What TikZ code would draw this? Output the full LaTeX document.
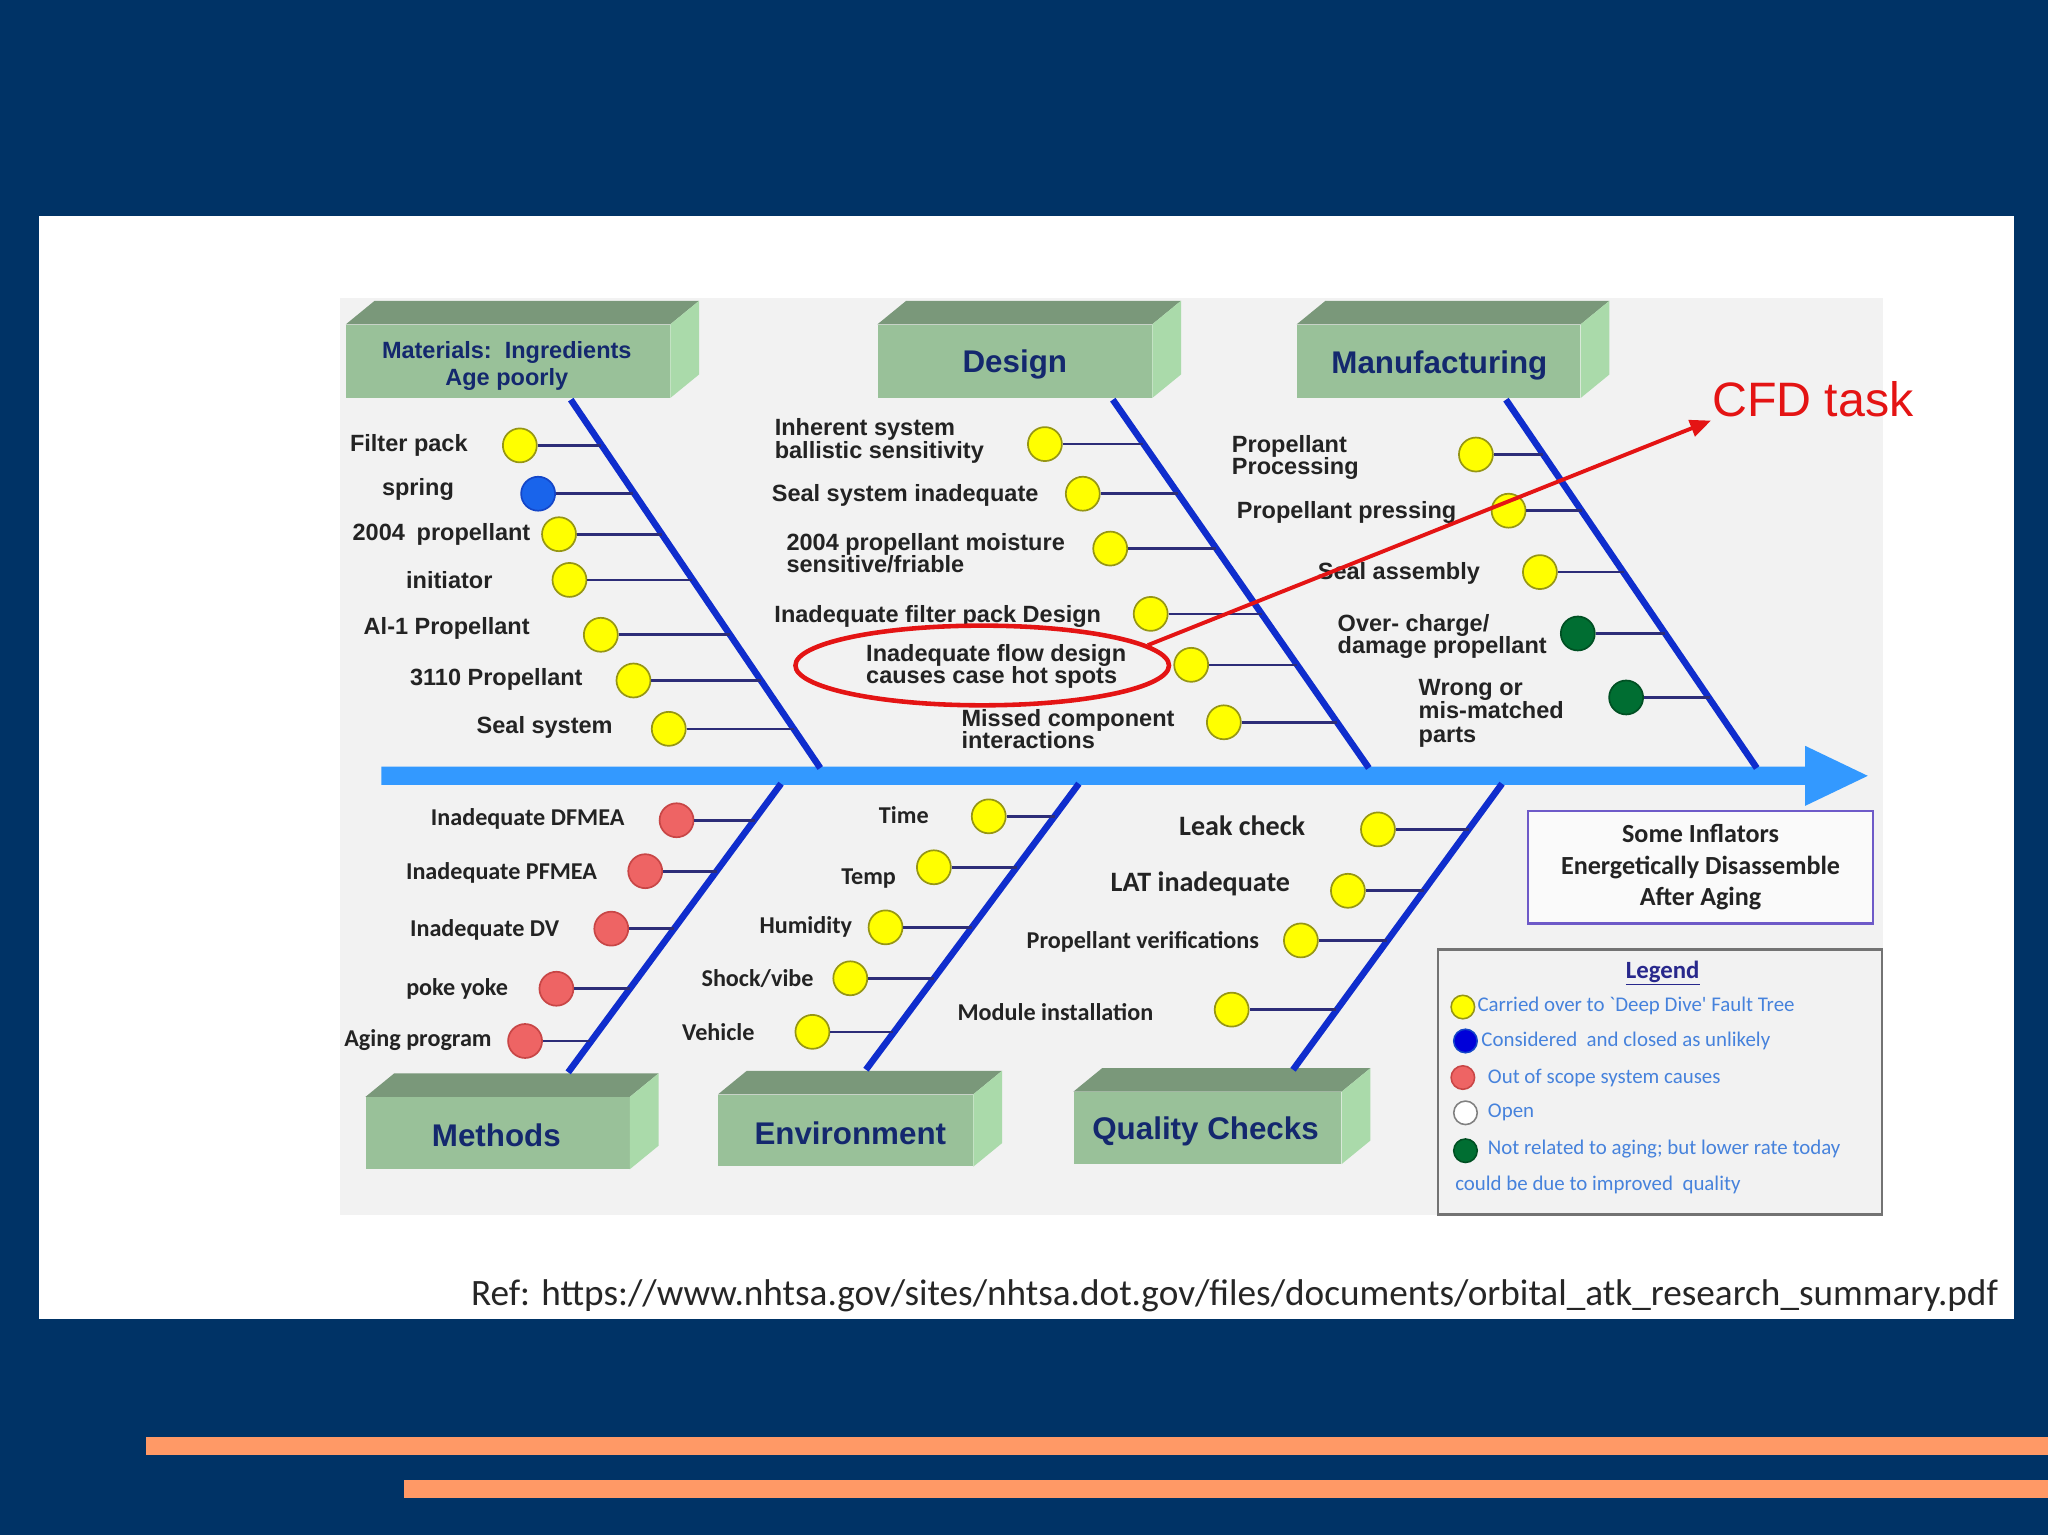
\documentclass[tikz,border=0pt]{standalone}
\usepackage{fontspec}
\setmainfont{Liberation Sans}
\newfontfamily\calfont{Carlito}
\usetikzlibrary{shapes.geometric,arrows.meta}
\definecolor{navybg}{RGB}{0,51,102}
\definecolor{orangebar}{RGB}{255,153,102}
\definecolor{diagbg}{RGB}{242,242,242}
\definecolor{spinecol}{RGB}{51,153,255}
\definecolor{bonecol}{RGB}{15,45,205}
\definecolor{twigcol}{RGB}{45,45,120}
\definecolor{yfill}{RGB}{255,255,0}
\definecolor{yedge}{RGB}{150,150,20}
\definecolor{bfill}{RGB}{25,100,235}
\definecolor{bedge}{RGB}{20,70,200}
\definecolor{rfill}{RGB}{238,100,100}
\definecolor{redge}{RGB}{200,70,70}
\definecolor{gfill}{RGB}{0,110,50}
\definecolor{gedge}{RGB}{0,80,35}
\definecolor{frontgreen}{RGB}{153,193,153}
\definecolor{topgreen}{RGB}{122,152,122}
\definecolor{sidegreen}{RGB}{170,218,170}
\definecolor{hdrtext}{RGB}{20,40,110}
\definecolor{labeltext}{RGB}{35,35,35}
\definecolor{legtext}{RGB}{70,130,220}
\definecolor{legtitle}{RGB}{40,40,140}
\definecolor{redmark}{RGB}{228,20,20}
\definecolor{effborder}{RGB}{110,90,200}
\newcommand\boxfaces[1]{%
  \fill[topgreen] (#1.north west) -- ++(22,-18) -- ([shift={(22,-18)}]#1.north east) -- (#1.north east) -- cycle;
  \fill[sidegreen] (#1.north east) -- ++(22,-18) -- ([shift={(22,-18)}]#1.south east) -- (#1.south east) -- cycle;}
\begin{document}
\begin{tikzpicture}[x=1pt,y=-1pt,
  front/.style={fill=frontgreen, inner sep=0pt, minimum height=56pt},
  hdr/.style={inner sep=0pt, text=hdrtext, align=center, font=\fontsize{24}{26}\selectfont\bfseries},
  bone/.style={draw=bonecol, line width=5pt},
  twig/.style={draw=twigcol, line width=2pt},
  dot/.style={circle, line width=1.3pt, minimum size=26pt, inner sep=0pt},
  cy/.style={dot, draw=yedge, fill=yfill},
  cb/.style={dot, draw=bedge, fill=bfill},
  cr/.style={dot, draw=redge, fill=rfill},
  cg/.style={dot, draw=gedge, fill=gfill},
  lbl/.style={inner sep=0pt, text=labeltext, align=left, font=\fontsize{18}{17}\selectfont\bfseries},
  lblc/.style={inner sep=0pt, text=labeltext, align=left, font=\calfont\bfseries\fontsize{18.5}{18}\selectfont},
  lblq/.style={inner sep=0pt, text=labeltext, align=left, font=\calfont\bfseries\fontsize{21.5}{22}\selectfont},
  legdot/.style={circle, line width=1.2pt, minimum size=18pt, inner sep=0pt},
  legtxt/.style={inner sep=0pt, anchor=west, text=legtext, font=\calfont\fontsize{16}{18}\selectfont}
]
\useasboundingbox (0,0) rectangle (1568,1175);
% backgrounds
\fill[navybg] (0,0) rectangle (1568,1175);
\fill[white] (30,165) rectangle (1542,1010);
\fill[diagbg] (260,228) rectangle (1442,930);
\fill[orangebar] (112,1100) rectangle (1568,1114);
\fill[orangebar] (309,1133) rectangle (1568,1147);

% header boxes
\node[front, minimum width=248pt] (mat) at (389,276.5) {};
\boxfaces{mat}
\node[hdr, font=\fontsize{18}{21}\selectfont\bfseries] (matL) at (388,280) {Materials:\ \ Ingredients\\Age poorly};
\node[front, minimum width=210pt] (des) at (777,276.5) {};
\boxfaces{des}
\node[hdr] (desL) at (777,279) {Design};
\node[front, minimum width=217pt] (man) at (1101.5,276.5) {};
\boxfaces{man}
\node[hdr] (manL) at (1102,280) {Manufacturing};
\node[front, minimum width=202pt, minimum height=55pt] (met) at (381,867.5) {};
\boxfaces{met}
\node[hdr] (metL) at (380,869) {Methods};
\node[front, minimum width=195pt, minimum height=55pt] (env) at (647.5,865.5) {};
\boxfaces{env}
\node[hdr] (envL) at (651,868) {Environment};
\node[front, minimum width=205pt, minimum height=55pt] (qua) at (924.5,863.5) {};
\boxfaces{qua}
\node[hdr] (quaL) at (923,866) {Quality Checks};

% spine
\coordinate (spL) at (292,594);
\coordinate (spR) at (1430,594);
\fill[spinecol] (292,587) -- (1382,587) -- (1382,571) -- (spR) -- (1382,617) -- (1382,601) -- (292,601) -- cycle;

% bones
\coordinate (matT) at (437,306); \coordinate (matB) at (628,588);
\coordinate (desT) at (852,306); \coordinate (desB) at (1048,588);
\coordinate (manT) at (1153,306); \coordinate (manB) at (1345,588);
\coordinate (metB) at (435,821); \coordinate (metT) at (598,600);
\coordinate (envB) at (663,819); \coordinate (envT) at (826,600);
\coordinate (quaB) at (990,819); \coordinate (quaT) at (1150,600);
\draw[bone] (matT) -- (matB);
\draw[bone] (desT) -- (desB);
\draw[bone] (manT) -- (manB);
\draw[bone] (metB) -- (metT);
\draw[bone] (envB) -- (envT);
\draw[bone] (quaB) -- (quaT);

% Materials causes
\node[cy] (m1) at (398,341) {}; \coordinate (m1e) at (460,341); \draw[twig] (m1) -- (m1e);
\node[lbl] (m1t) at (313,341) {Filter pack};
\node[cb] (m2) at (412,378) {}; \coordinate (m2e) at (485,378); \draw[twig] (m2) -- (m2e);
\node[lbl] (m2t) at (320,375) {spring};
\node[cy] (m3) at (428,409) {}; \coordinate (m3e) at (507,409); \draw[twig] (m3) -- (m3e);
\node[lbl] (m3t) at (338,409) {2004\enspace propellant};
\node[cy] (m4) at (436,444) {}; \coordinate (m4e) at (530,444); \draw[twig] (m4) -- (m4e);
\node[lbl] (m4t) at (344,444) {initiator};
\node[cy] (m5) at (460,486) {}; \coordinate (m5e) at (559,486); \draw[twig] (m5) -- (m5e);
\node[lbl] (m5t) at (342,481) {Al-1 Propellant};
\node[cy] (m6) at (485,521) {}; \coordinate (m6e) at (583,521); \draw[twig] (m6) -- (m6e);
\node[lbl] (m6t) at (380,520) {3110 Propellant};
\node[cy] (m7) at (512,558) {}; \coordinate (m7e) at (608,558); \draw[twig] (m7) -- (m7e);
\node[lbl] (m7t) at (417,557) {Seal system};

% Design causes
\node[cy] (d1) at (800,340) {}; \coordinate (d1e) at (875,340); \draw[twig] (d1) -- (d1e);
\node[lbl, anchor=west] (d1t) at (593,337.5) {Inherent system\\ballistic sensitivity};
\node[cy] (d2) at (829,378) {}; \coordinate (d2e) at (902,378); \draw[twig] (d2) -- (d2e);
\node[lbl] (d2t) at (693,379) {Seal system inadequate};
\node[cy] (d3) at (850,420) {}; \coordinate (d3e) at (931,420); \draw[twig] (d3) -- (d3e);
\node[lbl, anchor=west] (d3t) at (602,423.5) {2004 propellant moisture\\sensitive/friable};
\node[cy] (d4) at (881,470) {}; \coordinate (d4e) at (966,470); \draw[twig] (d4) -- (d4e);
\node[lbl] (d4t) at (718,472) {Inadequate filter pack Design};
\node[cy] (d5) at (912,509) {}; \coordinate (d5e) at (993,509); \draw[twig] (d5) -- (d5e);
\node[lbl, anchor=west] (d5t) at (663,510.5) {Inadequate flow design\\causes case hot spots};
\node[cy] (d6) at (937,553) {}; \coordinate (d6e) at (1024,553); \draw[twig] (d6) -- (d6e);
\node[lbl, anchor=west] (d6t) at (736,558) {Missed component\\interactions};

% Manufacturing causes
\node[cy] (f1) at (1130,348) {}; \coordinate (f1e) at (1181,348); \draw[twig] (f1) -- (f1e);
\node[lbl, anchor=west] (f1t) at (943,350.5) {Propellant\\Processing};
\node[cy] (f2) at (1155,391) {}; \coordinate (f2e) at (1211,391); \draw[twig] (f2) -- (f2e);
\node[lbl] (f2t) at (1031,392) {Propellant pressing};
\node[cy] (f3) at (1179,438) {}; \coordinate (f3e) at (1243,438); \draw[twig] (f3) -- (f3e);
\node[lbl] (f3t) at (1071,439) {Seal assembly};
\node[cg] (f4) at (1208,485) {}; \coordinate (f4e) at (1275,485); \draw[twig] (f4) -- (f4e);
\node[lbl, anchor=west] (f4t) at (1024,487.5) {Over- charge/\\damage propellant};
\node[cg] (f5) at (1245,534) {}; \coordinate (f5e) at (1309,534); \draw[twig] (f5) -- (f5e);
\node[lbl, anchor=west, font=\fontsize{18}{18}\selectfont\bfseries] (f5t) at (1086,546) {Wrong or\\mis-matched\\parts};

% Methods causes
\node[cr] (t1) at (518,628) {}; \coordinate (t1e) at (578,628); \draw[twig] (t1) -- (t1e);
\node[lblc] (t1t) at (404,627) {Inadequate DFMEA};
\node[cr] (t2) at (494,667) {}; \coordinate (t2e) at (549,667); \draw[twig] (t2) -- (t2e);
\node[lblc] (t2t) at (384,668) {Inadequate PFMEA};
\node[cr] (t3) at (468,711) {}; \coordinate (t3e) at (516,711); \draw[twig] (t3) -- (t3e);
\node[lblc] (t3t) at (371,712) {Inadequate DV};
\node[cr] (t4) at (426,757) {}; \coordinate (t4e) at (482,757); \draw[twig] (t4) -- (t4e);
\node[lblc] (t4t) at (350,757) {poke yoke};
\node[cr] (t5) at (402,797) {}; \coordinate (t5e) at (452,797); \draw[twig] (t5) -- (t5e);
\node[lblc] (t5t) at (320,796) {Aging program};

% Environment causes
\node[cy] (e1) at (757,625) {}; \coordinate (e1e) at (808,625); \draw[twig] (e1) -- (e1e);
\node[lblc] (e1t) at (692,624) {Time};
\node[cy] (e2) at (715,664) {}; \coordinate (e2e) at (779,664); \draw[twig] (e2) -- (e2e);
\node[lblc] (e2t) at (665,673) {Temp};
\node[cy] (e3) at (678,710) {}; \coordinate (e3e) at (744,710); \draw[twig] (e3) -- (e3e);
\node[lblc] (e3t) at (617,710) {Humidity};
\node[cy] (e4) at (651,749) {}; \coordinate (e4e) at (715,749); \draw[twig] (e4) -- (e4e);
\node[lblc] (e4t) at (580,749) {Shock/vibe};
\node[cy] (e5) at (622,790) {}; \coordinate (e5e) at (684,790); \draw[twig] (e5) -- (e5e);
\node[lblc] (e5t) at (550,790) {Vehicle};

% Quality causes
\node[cy] (q1) at (1055,635) {}; \coordinate (q1e) at (1125,635); \draw[twig] (q1) -- (q1e);
\node[lblq] (q1t) at (951,632) {Leak check};
\node[cy] (q2) at (1032,682) {}; \coordinate (q2e) at (1090,682); \draw[twig] (q2) -- (q2e);
\node[lblq] (q2t) at (919,677) {LAT inadequate};
\node[cy] (q3) at (996,720) {}; \coordinate (q3e) at (1062,720); \draw[twig] (q3) -- (q3e);
\node[lblc] (q3t) at (875,721) {Propellant verifications};
\node[cy] (q4) at (943,773) {}; \coordinate (q4e) at (1023,773); \draw[twig] (q4) -- (q4e);
\node[lblc] (q4t) at (808,775) {Module installation};

% effect box
\node[draw=effborder, line width=1.8pt, fill=white!60!diagbg, minimum width=264pt, minimum height=86pt,
  align=center, text=labeltext, font=\calfont\bfseries\fontsize{20}{24}\selectfont] (eff) at (1302,664)
  {Some Inflators\\Energetically Disassemble\\After Aging};

% legend
\node[draw=black!55, line width=2pt, fill=diagbg, minimum width=340pt, minimum height=203pt, inner sep=0pt] (leg) at (1271,828.5) {};
\node[text=legtitle, font=\calfont\bfseries\fontsize{19}{20}\selectfont, inner sep=0pt] (legt) at (1273,745) {\underline{Legend}};
\node[legdot, draw=yedge, fill=yfill] (lg1) at (1120,771) {};
\node[legtxt] (lg1t) at (1131,770) {Carried over to `Deep Dive' Fault Tree};
\node[legdot, draw=bedge, fill=blue!85!black] (lg2) at (1122,797) {};
\node[legtxt] (lg2t) at (1134,797) {Considered\ \ and closed as unlikely};
\node[legdot, draw=redge, fill=rfill] (lg3) at (1120,825) {};
\node[legtxt] (lg3t) at (1139,825) {Out of scope system causes};
\node[legdot, draw=black!50, fill=white] (lg4) at (1122,852) {};
\node[legtxt] (lg4t) at (1139,852) {Open};
\node[legdot, draw=gedge, fill=gfill] (lg5) at (1122,881) {};
\node[legtxt] (lg5t) at (1139,880) {Not related to aging; but lower rate today};
\node[legtxt] (lg6t) at (1114,907) {could be due to improved\ \ quality};

% CFD highlight
\node[ellipse, draw=redmark, line width=3.5pt, minimum width=286pt, minimum height=61pt, inner sep=0pt] (ell) at (752,509.5) {};
\node[text=redmark, font=\fontsize{37}{40}\selectfont, inner sep=0pt] (cfd) at (1388,306) {CFD task};
\coordinate (cfdtip) at (1310,322);
\draw[redmark, line width=3pt, -{Triangle[length=16pt,width=13pt]}] (ell.7) -- (cfdtip);

% reference
\node[anchor=east, inner sep=0pt, text=black!85, font=\calfont\fontsize{28.5}{30}\selectfont] (ref) at (1530,992)
  {Ref: https://www.nhtsa.gov/sites/nhtsa.dot.gov/files/documents/orbital\_atk\_research\_summary.pdf};
\end{tikzpicture}
\end{document}
